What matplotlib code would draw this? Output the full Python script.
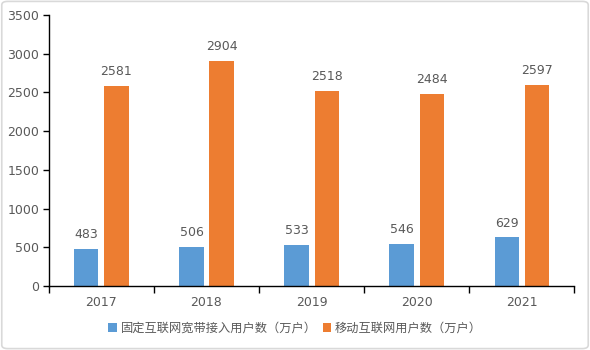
import numpy as np
import matplotlib.pyplot as plt
from matplotlib.patches import FancyBboxPatch

plt.rcParams['font.family'] = ['DejaVu Sans', 'Noto Sans CJK SC']

years = ['2017', '2018', '2019', '2020', '2021']
fixed_users = [483, 506, 533, 546, 629]
mobile_users = [2581, 2904, 2518, 2484, 2597]
labels = ['固定互联网宽带接入用户数（万户）', '移动互联网用户数（万户）']

blue = '#5B9BD5'
orange = '#ED7D31'
text_c = '#595959'

fig = plt.figure(figsize=(5.9, 3.5), dpi=100)
# light frame around the chart area
fig.patches.append(FancyBboxPatch((0.003, 0.004), 0.994, 0.992, boxstyle='round,pad=0,rounding_size=0.01',
                                  transform=fig.transFigure, fill=False, ec='#D9D9D9', lw=1.2))
ax = fig.add_axes([0.083, 0.183, 0.89, 0.774])

x = np.arange(len(years))
w = 0.229
off = 0.143
b1 = ax.bar(x - off, fixed_users, w, color=blue, label=labels[0])
b2 = ax.bar(x + off, mobile_users, w, color=orange, label=labels[1])

for bars, vals in ((b1, fixed_users), (b2, mobile_users)):
    for r, v in zip(bars, vals):
        ax.text(r.get_x() + r.get_width() / 2, v + 100, str(v), ha='center', va='bottom',
                fontsize=9, color=text_c)

ax.set_xlim(-0.5, len(years) - 0.5)
ax.set_ylim(0, 3500)
ax.set_yticks(np.arange(0, 3501, 500))
ax.set_xticks(x)
ax.set_xticklabels(years)
ax.set_xticks(np.arange(-0.5, len(years)), minor=True)
ax.tick_params(axis='x', which='major', length=0, pad=7, labelsize=9, labelcolor=text_c)
ax.tick_params(axis='x', which='minor', length=5, direction='out', width=1)
ax.tick_params(axis='y', length=4, direction='out', width=1, labelsize=9, labelcolor=text_c, pad=3)

for s in ('top', 'right'):
    ax.spines[s].set_visible(False)
ax.spines['left'].set_linewidth(1)
ax.spines['bottom'].set_linewidth(1)

leg = fig.legend(loc='center', bbox_to_anchor=(0.5, 0.062), ncol=2, frameon=False,
                 handlelength=0.7, handleheight=0.7, handletextpad=0.3,
                 columnspacing=0.5, prop={'family': ['Noto Sans CJK SC'], 'size': 8.8})
for t in leg.get_texts():
    t.set_color(text_c)

fig.savefig('out.png', dpi=100)
